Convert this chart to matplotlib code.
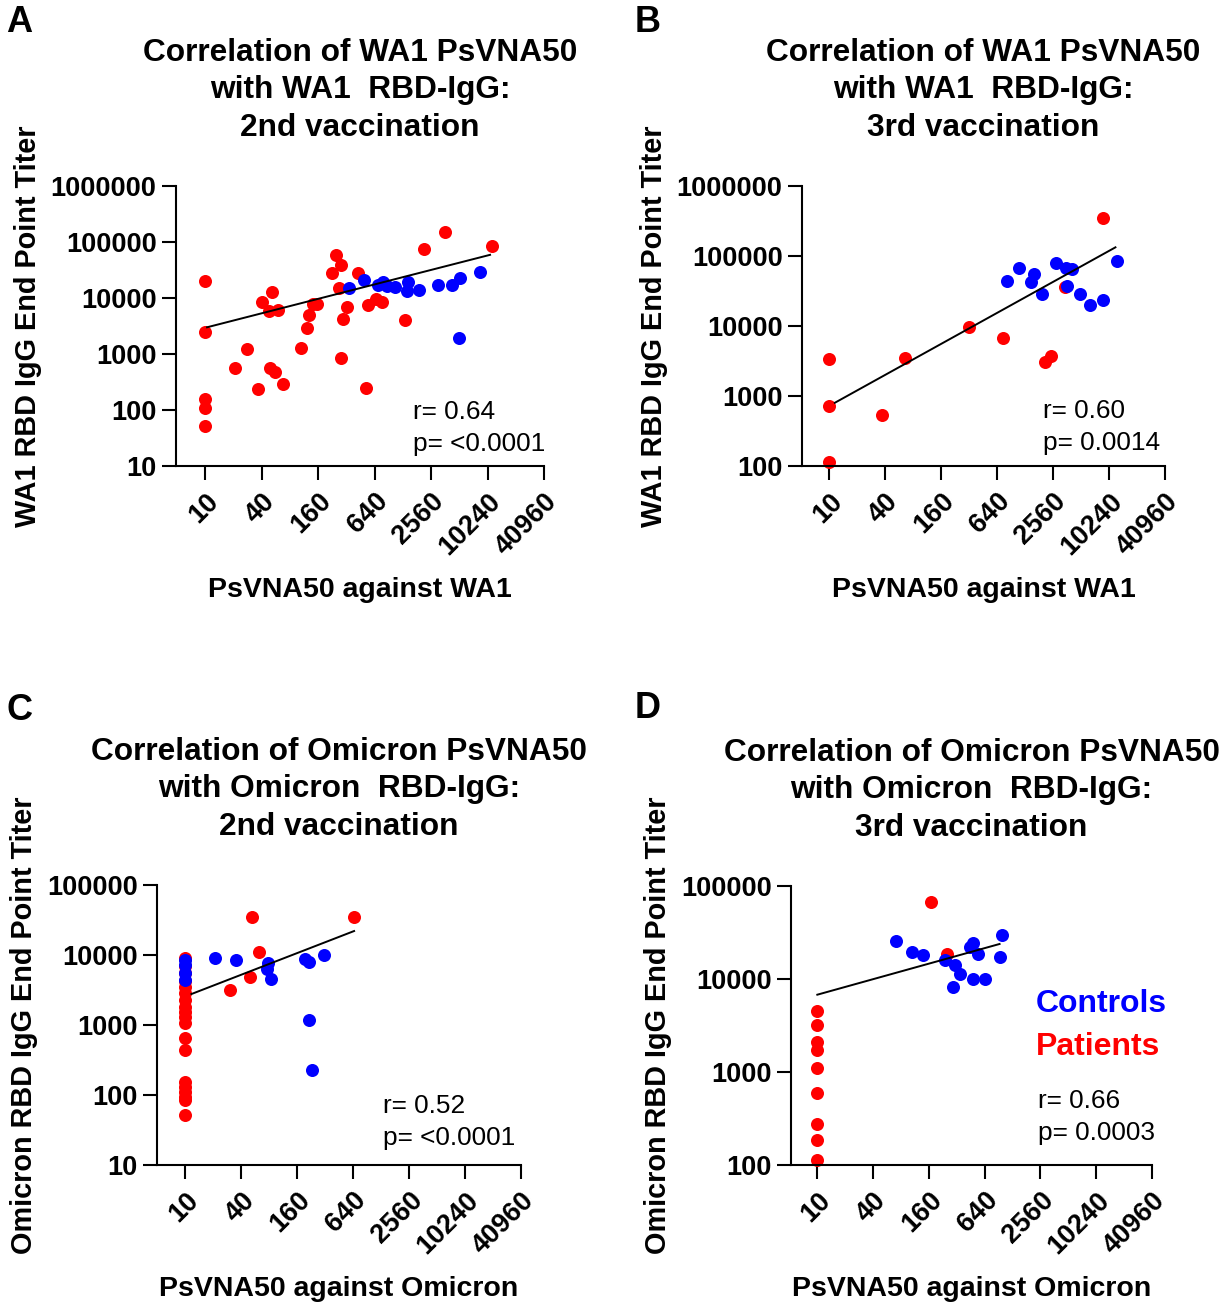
import numpy as np
import matplotlib
matplotlib.use("Agg")
import matplotlib.pyplot as plt
from matplotlib.transforms import ScaledTranslation

plt.rcParams['font.family'] = ['Liberation Sans', 'DejaVu Sans']

W, H = 1226, 1304

# shared x ticks (PsVNA50 titers)
x_ticks = [10, 40, 160, 640, 2560, 10240, 40960]
x_ticklabels = ["10", "40", "160", "640", "2560", "10240", "40960"]

# ---- Panel A: WA1, 2nd vaccination ----
a_red_x = [10, 10, 10, 10, 10, 21, 28, 37, 40, 48, 52, 49, 55, 60, 68,
           105, 123, 129, 143, 157, 249, 279, 224, 266, 297, 323, 279,
           431, 541, 520, 664, 764, 1360, 2170, 3650, 11340]
a_red_y = [20000, 2500, 155, 109, 51, 570, 1230, 240, 8400, 5900, 12800, 560, 480, 6000, 290,
           1300, 2900, 5000, 7900, 7900, 59000, 39000, 27600, 15300, 4300, 6900, 840,
           27600, 7500, 250, 9600, 8600, 4100, 76000, 153000, 85000]
a_blue_x = [339, 492, 698, 783, 876, 1050, 1440, 1430, 1920, 3040, 4250, 5270, 8510, 5050]
a_blue_y = [15300, 20900, 16900, 19300, 16600, 15900, 19500, 13300, 13700, 17100, 16900, 22800, 29500, 1950]
a_fit_x = [10.5, 10900]
a_fit_y = [3000, 59000]

# ---- Panel B: WA1, 3rd vaccination ----
b_red_x = [10, 10, 10, 37, 66, 323, 732, 2120, 2430, 3430, 8750]
b_red_y = [3400, 730, 114, 535, 3500, 9600, 6800, 3030, 3700, 36400, 346000]
b_blue_x = [813, 1090, 1600, 1500, 1960, 2720, 3490, 4140, 3660, 4930, 6440, 8800, 12540]
b_blue_y = [43600, 67400, 55300, 42500, 28600, 80200, 67400, 64500, 37300, 28600, 19900, 23500, 84900]
b_fit_x = [11.5, 12000]
b_fit_y = [800, 133000]

# ---- Panel C: Omicron, 2nd vaccination ----
c_red_x = [10] * 19 + [52, 654, 62, 50, 30]
c_red_y = [9000, 7000, 5500, 4200, 3520, 2840, 2280, 1820, 1550, 1310, 1060,
           645, 440, 155, 131, 111, 95, 85, 51] + [35200, 35200, 10900, 4850, 3130]
c_blue_x = [10, 10, 10, 10, 21, 35, 77, 75, 84, 193, 216, 310, 214, 230]
c_blue_y = [8500, 7200, 5500, 4400, 9060, 8400, 7700, 6400, 4600, 8700, 8000, 10000, 1190, 225]
c_fit_x = [11.6, 654]
c_fit_y = [2770, 22000]

# ---- Panel D: Omicron, 3rd vaccination ----
d_red_x = [10] * 9 + [168, 253]
d_red_y = [4560, 3200, 2120, 1710, 1110, 600, 274, 186, 113] + [66800, 18600]
d_blue_x = [71, 106, 138, 238, 303, 349, 288, 478, 446, 536, 481, 639, 990, 944]
d_blue_y = [25600, 19700, 18100, 15900, 14300, 11400, 8260, 24400, 21900, 18600, 9930, 10070, 29700, 17400]
d_fit_x = [10, 927]
d_fit_y = [6780, 23800]

fig = plt.figure(figsize=(W / 100, H / 100), dpi=100)
shift_left = ScaledTranslation(-4 / 100, 0, fig.dpi_scale_trans)


def make_panel(box, xmin, ylim, red, blue, fit, title, ylabel, xlabel, stats, stats_pos):
    l, r, t, b = box
    ax = fig.add_axes([l / W, 1 - b / H, (r - l) / W, (b - t) / H])
    ax.scatter(red[0], red[1], s=88, color='#ff0000', linewidths=0, zorder=2, clip_on=False)
    ax.scatter(blue[0], blue[1], s=88, color='#0000ff', linewidths=0, zorder=3, clip_on=False)
    ax.plot(fit[0], fit[1], color='black', lw=1.4, zorder=4)
    ax.set_xscale('log')
    ax.set_yscale('log')
    ax.set_xlim(xmin, 40960)
    ax.set_ylim(*ylim)
    yt = [10 ** k for k in range(int(round(np.log10(ylim[0]))), int(round(np.log10(ylim[1]))) + 1)]
    ax.set_yticks(yt)
    ax.set_yticklabels([str(v) for v in yt], fontsize=19.5, fontweight='bold')
    ax.set_xticks(x_ticks)
    ax.set_xticklabels(x_ticklabels, fontsize=19.5, fontweight='bold',
                       rotation=45, ha='right', va='top', rotation_mode='anchor')
    for lab in ax.get_xticklabels():
        lab.set_transform(lab.get_transform() + shift_left)
    ax.minorticks_off()
    for s in ['top', 'right']:
        ax.spines[s].set_visible(False)
    for s in ['left', 'bottom']:
        ax.spines[s].set_linewidth(1.5)
    ax.tick_params(axis='both', length=10, width=1.5, direction='out')
    ax.tick_params(axis='y', pad=4)
    ax.tick_params(axis='x', pad=6)
    ax.set_title(title, fontsize=22.8, fontweight='bold', pad=36, linespacing=1.33)
    ax.set_ylabel(ylabel, fontsize=20.8, fontweight='bold', labelpad=6)
    ax.set_xlabel(xlabel, fontsize=20.5, fontweight='bold', labelpad=12)
    fig.text(stats_pos[0] / W, 1 - stats_pos[1] / H, stats, fontsize=18.9,
             ha='left', va='center', linespacing=1.45)
    return ax


ax_a = make_panel((176, 544, 186, 466), 4.9, (10, 1e6),
                  (a_red_x, a_red_y), (a_blue_x, a_blue_y), (a_fit_x, a_fit_y),
                  "Correlation of WA1 PsVNA50\nwith WA1  RBD-IgG:\n2nd vaccination",
                  "WA1 RBD IgG End Point Titer", "PsVNA50 against WA1",
                  "r= 0.64\np= <0.0001", (413, 428))
ax_b = make_panel((802, 1165, 186, 466), 5.1, (100, 1e6),
                  (b_red_x, b_red_y), (b_blue_x, b_blue_y), (b_fit_x, b_fit_y),
                  "Correlation of WA1 PsVNA50\nwith WA1  RBD-IgG:\n3rd vaccination",
                  "WA1 RBD IgG End Point Titer", "PsVNA50 against WA1",
                  "r= 0.60\np= 0.0014", (1043, 427))
ax_c = make_panel((157, 521, 885, 1165), 4.94, (10, 1e5),
                  (c_red_x, c_red_y), (c_blue_x, c_blue_y), (c_fit_x, c_fit_y),
                  "Correlation of Omicron PsVNA50\nwith Omicron  RBD-IgG:\n2nd vaccination",
                  "Omicron RBD IgG End Point Titer", "PsVNA50 against Omicron",
                  "r= 0.52\np= <0.0001", (383, 1122))
ax_d = make_panel((791, 1152, 886, 1165), 5.2, (100, 1e5),
                  (d_red_x, d_red_y), (d_blue_x, d_blue_y), (d_fit_x, d_fit_y),
                  "Correlation of Omicron PsVNA50\nwith Omicron  RBD-IgG:\n3rd vaccination",
                  "Omicron RBD IgG End Point Titer", "PsVNA50 against Omicron",
                  "r= 0.66\np= 0.0003", (1038, 1117))

# legend text in panel D
fig.text(1036 / W, 1 - 1004 / H, "Controls", color='#0000ff', fontsize=23,
         fontweight='bold', ha='left', va='center')
fig.text(1036 / W, 1 - 1047 / H, "Patients", color='#ff0000', fontsize=23,
         fontweight='bold', ha='left', va='center')

# panel letters
for letter, (px, py) in zip("ABCD", [(19, 22), (648, 22), (19, 710), (648, 708)]):
    fig.text(px / W, 1 - py / H, letter, fontsize=26, fontweight='bold',
             ha='center', va='center')

fig.savefig("out.png", dpi=100)
